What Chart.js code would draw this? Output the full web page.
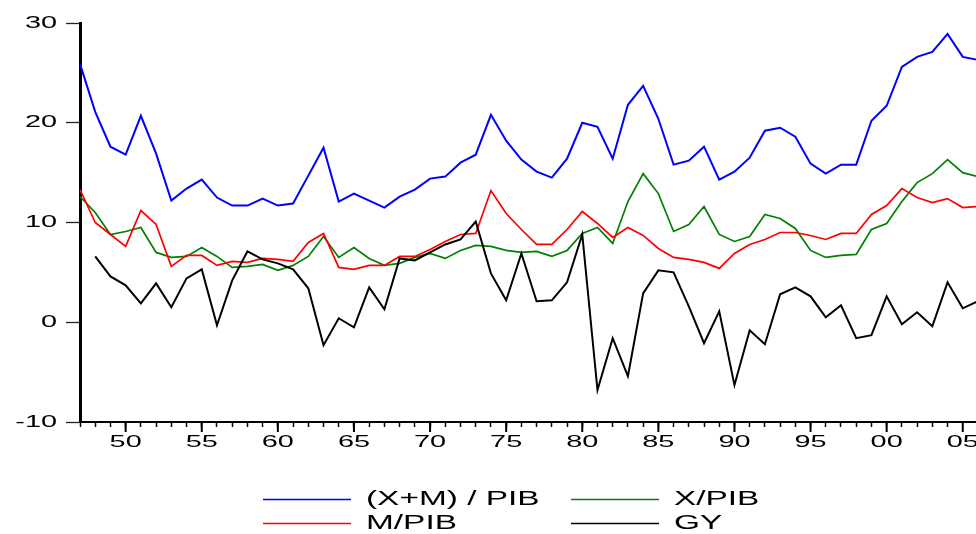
<!DOCTYPE html>
<html>
<head>
<meta charset="utf-8">
<title>(X+M) / PIB, X/PIB, M/PIB, GY</title>
<script src="https://cdn.jsdelivr.net/npm/chart.js@4.4.1/dist/chart.umd.min.js"></script>
<style>
  html, body { margin: 0; padding: 0; background: #fff; }
  #wrap { position: relative; width: 976px; height: 534px; }
</style>
</head>
<body>
<div id="wrap"><canvas id="chart"></canvas></div>
<script>
// ── Data (one value per year) ──
const years = [
  1947, 1948, 1949, 1950, 1951, 1952, 1953, 1954, 1955, 1956,
  1957, 1958, 1959, 1960, 1961, 1962, 1963, 1964, 1965, 1966,
  1967, 1968, 1969, 1970, 1971, 1972, 1973, 1974, 1975, 1976,
  1977, 1978, 1979, 1980, 1981, 1982, 1983, 1984, 1985, 1986,
  1987, 1988, 1989, 1990, 1991, 1992, 1993, 1994, 1995, 1996,
  1997, 1998, 1999, 2000, 2001, 2002, 2003, 2004, 2005, 2006,
];

const opennessPib = [
  25.9, 21.1, 17.6, 16.8, 20.7, 16.9, 12.2, 13.4, 14.3, 12.5,
  11.7, 11.7, 12.4, 11.7, 11.9, 14.7, 17.5, 12.1, 12.9, 12.2,
  11.5, 12.6, 13.3, 14.4, 14.6, 16.0, 16.8, 20.8, 18.2, 16.3,
  15.1, 14.5, 16.4, 20.0, 19.6, 16.4, 21.8, 23.7, 20.4, 15.8,
  16.2, 17.6, 14.3, 15.1, 16.5, 19.2, 19.5, 18.6, 15.9, 14.9,
  15.8, 15.8, 20.2, 21.7, 25.6, 26.6, 27.1, 28.9, 26.6, 26.3,
];

const exportsPib = [
  12.6, 11.0, 8.8, 9.1, 9.5, 7.0, 6.5, 6.6, 7.5, 6.6,
  5.5, 5.6, 5.8, 5.2, 5.7, 6.6, 8.6, 6.5, 7.5, 6.4,
  5.7, 5.9, 6.5, 6.9, 6.4, 7.2, 7.7, 7.6, 7.2, 7.0,
  7.1, 6.6, 7.2, 8.9, 9.5, 7.9, 12.1, 14.9, 12.9, 9.1,
  9.8, 11.6, 8.8, 8.1, 8.6, 10.8, 10.4, 9.4, 7.2, 6.5,
  6.7, 6.8, 9.3, 9.9, 12.1, 14.0, 14.9, 16.3, 15.0, 14.6,
];

const importsPib = [
  13.3, 10.0, 8.8, 7.6, 11.2, 9.8, 5.6, 6.7, 6.7, 5.7,
  6.1, 6.0, 6.4, 6.3, 6.1, 8.0, 8.9, 5.5, 5.3, 5.7,
  5.7, 6.6, 6.6, 7.3, 8.1, 8.8, 8.9, 13.2, 10.9, 9.3,
  7.8, 7.8, 9.3, 11.1, 9.9, 8.5, 9.5, 8.7, 7.4, 6.5,
  6.3, 6.0, 5.4, 6.9, 7.8, 8.3, 9.0, 9.0, 8.7, 8.3,
  8.9, 8.9, 10.8, 11.7, 13.4, 12.5, 12.0, 12.4, 11.5, 11.6,
];

const gy = [
  null, 6.6, 4.6, 3.7, 1.9, 3.9, 1.5, 4.4, 5.3, -0.3,
  4.2, 7.1, 6.3, 5.9, 5.3, 3.4, -2.3, 0.4, -0.5, 3.5,
  1.3, 6.4, 6.2, 7.0, 7.8, 8.3, 10.1, 4.9, 2.2, 6.9,
  2.1, 2.2, 4.0, 8.8, -6.8, -1.6, -5.4, 2.9, 5.2, 5.0,
  1.6, -2.1, 1.1, -6.3, -0.8, -2.2, 2.8, 3.5, 2.6, 0.5,
  1.7, -1.6, -1.3, 2.6, -0.2, 1.0, -0.4, 4.0, 1.4, 2.1,
];

const xTickYears = [1950, 1955, 1960, 1965, 1970, 1975, 1980, 1985, 1990, 1995, 2000, 2005];
const xTickLabels = ['50', '55', '60', '65', '70', '75', '80', '85', '90', '95', '00', '05'];
const yTickValues = [-10, 0, 10, 20, 30];
const yTickLabels = ['-10', '0', '10', '20', '30'];

// ── Look ──
const FONT = '"Liberation Sans", Arial, sans-serif';
const TEXT_STRETCH = 1.75;   // the reference type is drawn wide
const LEGEND_STRETCH = 1.67;
const LEGEND_COLS = [263, 571];
const LEGEND_ROWS = [499, 523];

const toPoints = (vals) => years.map((yr, i) => ({ x: yr, y: vals[i] }));

function wideText(ctx, str, x, y, align, stretch) {
  ctx.save();
  ctx.translate(x, y);
  ctx.scale(stretch, 1);
  ctx.textAlign = align;
  ctx.fillText(str, 0, 0);
  ctx.restore();
}

// ── Axis labels, long ticks and the legend ──
const eviewsDecor = {
  id: 'eviewsDecor',
  afterDraw(chart) {
    const { ctx, chartArea, scales: { x, y } } = chart;
    ctx.save();
    ctx.strokeStyle = '#000';
    ctx.fillStyle = '#000';

    // longer ticks at the labelled years
    ctx.lineWidth = 2;
    xTickYears.forEach(yr => {
      const px = x.getPixelForValue(yr);
      ctx.beginPath();
      ctx.moveTo(px, chartArea.bottom);
      ctx.lineTo(px, chartArea.bottom + 10);
      ctx.stroke();
    });

    ctx.font = `16.5px ${FONT}`;
    ctx.textBaseline = 'middle';
    xTickYears.forEach((yr, i) => {
      wideText(ctx, xTickLabels[i], x.getPixelForValue(yr), chartArea.bottom + 20, 'center', TEXT_STRETCH);
    });
    yTickValues.forEach((v, i) => {
      const txt = yTickLabels[i];
      const w = ctx.measureText(txt).width * TEXT_STRETCH;
      wideText(ctx, txt, y.left + 57 - w, y.getPixelForValue(v), 'left', TEXT_STRETCH);
    });

    // legend: two columns, two rows
    ctx.font = `20px ${FONT}`;
    chart.data.datasets.forEach((ds, i) => {
      const col = LEGEND_COLS[i % 2];
      const row = LEGEND_ROWS[Math.floor(i / 2)];
      ctx.strokeStyle = ds.borderColor;
      ctx.lineWidth = 1.3;
      ctx.beginPath();
      ctx.moveTo(col, row + 0.5);
      ctx.lineTo(col + 88, row + 0.5);
      ctx.stroke();
      ctx.fillStyle = '#000';
      wideText(ctx, ds.label, col + 103, row, 'left', LEGEND_STRETCH);
    });
    ctx.restore();
  },
};

const ctx = document.getElementById('chart').getContext('2d');
new Chart(ctx, {
  type: 'line',
  data: {
    datasets: [{
      label: '(X+M) / PIB',
      data: toPoints(opennessPib),
      borderColor: '#0000ff',
      borderWidth: 2,
      order: 4,
    }, {
      label: 'X/PIB',
      data: toPoints(exportsPib),
      borderColor: '#008000',
      borderWidth: 1.7,
      order: 3,
    }, {
      label: 'M/PIB',
      data: toPoints(importsPib),
      borderColor: '#ff0000',
      borderWidth: 1.7,
      order: 2,
    }, {
      label: 'GY',
      data: toPoints(gy),
      borderColor: '#000000',
      borderWidth: 2,
      order: 1,
    }],
  },
  options: {
    responsive: true,
    maintainAspectRatio: false,
    animation: false,
    events: [],
    elements: {
      point: { radius: 0 },
      line: { tension: 0, fill: false, borderJoinStyle: 'miter' },
    },
    layout: { padding: { top: 23, left: 0, right: 0, bottom: 0 } },
    plugins: {
      legend: { display: false },
      tooltip: { enabled: false },
    },
    scales: {
      x: {
        type: 'linear',
        min: 1947,
        max: 2005.87,
        ticks: { display: false, stepSize: 1, autoSkip: false },
        grid: { drawOnChartArea: false, drawTicks: true, tickLength: 5, tickColor: '#000', tickWidth: 1.5 },
        border: { display: true, color: '#000', width: 2 },
        afterBuildTicks: (scale) => {
          scale.ticks = scale.ticks.filter(t => Number.isInteger(t.value));
        },
        afterFit: (scale) => {
          scale.height = 112;
          scale.paddingLeft = 0;
          scale.paddingRight = 0;
        },
      },
      y: {
        min: -10,
        max: 30,
        ticks: { display: false, stepSize: 10 },
        grid: { drawOnChartArea: false, drawTicks: true, tickLength: 14, tickColor: '#222', tickWidth: 1.3 },
        border: { display: true, color: '#000', width: 3 },
        afterFit: (scale) => {
          scale.width = 80;
          scale.paddingTop = 0;
          scale.paddingBottom = 0;
        },
      },
    },
  },
  plugins: [eviewsDecor],
});
</script>
</body>
</html>
